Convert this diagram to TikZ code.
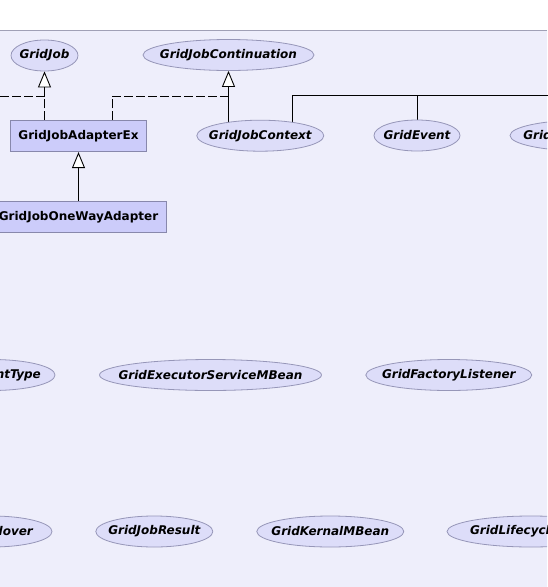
\documentclass[tikz,border=0pt]{standalone}
\usepackage{fontspec}
\setmainfont{DejaVu Sans}[BoldFont={DejaVu Sans Bold},ItalicFont={DejaVu Sans Oblique},BoldItalicFont={DejaVu Sans Bold Oblique}]
\usetikzlibrary{shapes.geometric,arrows.meta,calc}

\definecolor{paneFill}{RGB}{238,238,251}
\definecolor{paneLine}{RGB}{160,160,182}
\definecolor{ellFill}{RGB}{221,221,249}
\definecolor{ellBorder}{RGB}{150,150,184}
\definecolor{boxFill}{RGB}{204,204,250}
\definecolor{boxBorder}{RGB}{136,136,172}

\pgfdeclarelayer{bg}
\pgfdeclarelayer{edges}
\pgfsetlayers{bg,edges,main}

\tikzset{
  iface/.style={ellipse, draw=ellBorder, fill=ellFill, line width=0.8pt,
    inner xsep=-30pt, inner ysep=0pt, minimum height=31pt,
    font=\fontsize{12}{14}\selectfont\bfseries\itshape},
  cls/.style={rectangle, draw=boxBorder, fill=boxFill, line width=0.8pt,
    inner sep=0pt, minimum height=31pt,
    font=\fontsize{12}{14}\selectfont\bfseries},
  assoc/.style={line width=0.9pt},
  gen/.style={assoc, -{Triangle[width=13pt,length=16pt,fill=white]}},
  realize/.style={gen, dash pattern=on 9pt off 3pt},
  realizeline/.style={assoc, dash pattern=on 9pt off 3pt},
}

\begin{document}
\begin{tikzpicture}[x=1pt,y=-1pt]
\useasboundingbox (0,0) rectangle (547,587);
\clip (0,0) rectangle (547,587);

\begin{pgfonlayer}{bg}
  \fill[white] (0,0) rectangle (547,30);
  \fill[paneFill] (0,30) rectangle (547,587);
  \draw[paneLine, line width=1pt] (0,30.5) -- (547,30.5);
\end{pgfonlayer}

% first row: interfaces at the top
\node[iface, minimum width=67pt]  (job)  at (44.5,55.5) {GridJob};
\node[iface, minimum width=171pt] (cont) at (228.5,55)  {GridJobContinuation};

% second row
\node[cls, minimum width=136pt]   (jadx) at (78.5,136.2) {GridJobAdapterEx};
\node[iface, minimum width=127pt] (ctx)  at (260.3,135.7) {GridJobContext};
\node[iface, minimum width=86pt]  (evt)  at (417,135.5)  {GridEvent};
\node[iface, minimum width=149pt] (evl)  at (584.5,135.5) {GridEventListener};

% third row
\node[cls, minimum width=176pt]   (jow)  at (78.5,217) {GridJobOneWayAdapter};

% further interfaces
\node[iface, minimum width=126pt] (etype) at (-8,375)   {GridEventType};
\node[iface, minimum width=222pt] (exec)  at (210.5,375) {GridExecutorServiceMBean};
\node[iface, minimum width=166pt] (fact)  at (448.8,375) {GridFactoryListener};

\node[iface, minimum width=120pt] (fail)  at (-8,531.5)   {GridFailover};
\node[iface, minimum width=117pt] (res)   at (154.3,531.5) {GridJobResult};
\node[iface, minimum width=147pt] (kern)  at (330.3,531.5) {GridKernalMBean};
\node[iface, minimum width=168pt] (life)  at (531,531.5)   {GridLifecycleBean};

% bus points for shared connectors
\coordinate (jobbus)  at (0,96);
\coordinate (contbus) at (228.5,96);
\coordinate (rbus)    at (560,95.5);

\begin{pgfonlayer}{edges}
  % realizations of GridJob
  \draw[realize] (jadx.north -| job.south) -- (job.south);
  \draw[realizeline] (jobbus) -- (jobbus -| job.south);
  % realization of GridJobContinuation
  \draw[realizeline] ($(jadx.north)+(33.8,0)$) |- (contbus);
  % GridJobContext extends GridJobContinuation
  \draw[gen] (ctx.center -| cont.south) -- (cont.south);
  % GridJobOneWayAdapter extends GridJobAdapterEx
  \draw[gen] (jow.center) -- (jadx.south);
  % shared parent on the right
  \draw[assoc] ($(ctx.center)+(31.7,0)$) |- (rbus);
  \draw[assoc] (evt.center) -- (evt.center |- rbus);
\end{pgfonlayer}
\end{tikzpicture}
\end{document}
